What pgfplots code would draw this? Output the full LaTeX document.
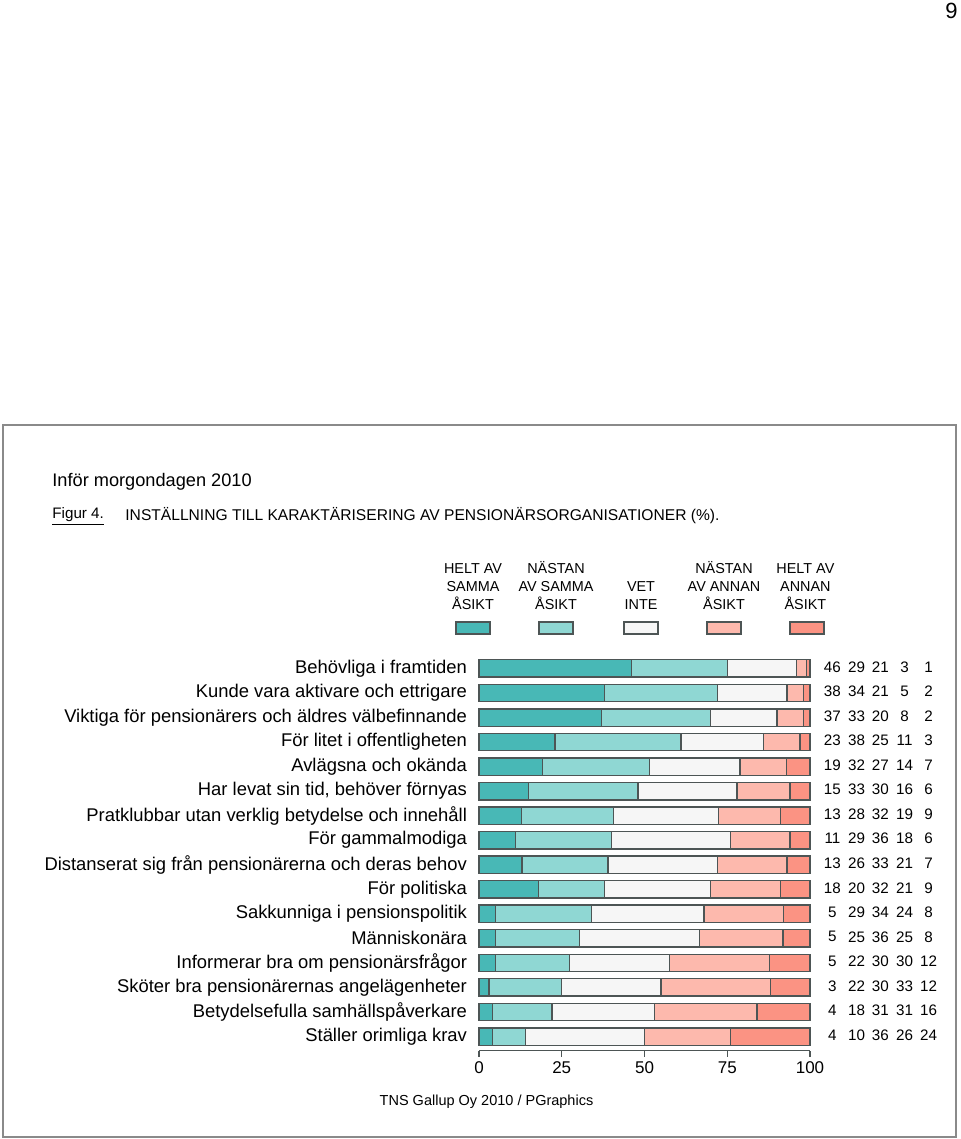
\documentclass[border=0pt]{standalone}
\usepackage{fontspec}
\setmainfont{Liberation Sans}
\usepackage{pgfplots}
\pgfplotsset{compat=1.18}
\definecolor{c1}{HTML}{48B8B6}
\definecolor{c2}{HTML}{8FD7D3}
\definecolor{c3}{HTML}{F6F6F6}
\definecolor{c4}{HTML}{FDB9AD}
\definecolor{c5}{HTML}{FB9383}
\definecolor{edge}{HTML}{4D5555}
\definecolor{framec}{HTML}{8A8A8A}
\begin{document}
\begin{tikzpicture}
\useasboundingbox (0,0) rectangle (480pt,-569.5pt);
\fill[white] (0,0) rectangle (480pt,-569.5pt);
\draw[line width=1pt, color=framec] (1.25pt,-212.5pt) rectangle (477.75pt,-568.5pt);
\node[anchor=base east, inner sep=0pt, font=\fontsize{11}{13}\selectfont] at (479pt,-9.5pt) {9};
\node[anchor=base west, inner sep=0pt, font=\fontsize{9.1}{11}\selectfont] at (26pt,-243pt) {Inför morgondagen 2010};
\node[anchor=base west, inner sep=0pt, font=\fontsize{7.6}{9}\selectfont] at (26pt,-259pt) {\underline{Figur 4.}};
\node[anchor=base west, inner sep=0pt, font=\fontsize{7.8}{9}\selectfont] at (62.5pt,-260pt) {INSTÄLLNING TILL KARAKTÄRISERING AV PENSIONÄRSORGANISATIONER (\%).};
% legend text
\tikzset{lg/.style={anchor=base, inner sep=0pt, font=\fontsize{7.2}{8.5}\selectfont}}
\node[lg] at (236.5pt,-286.5pt) {HELT AV};
\node[lg] at (236.5pt,-295.5pt) {SAMMA};
\node[lg] at (236.5pt,-304.5pt) {ÅSIKT};
\node[lg] at (278pt,-286.5pt) {NÄSTAN};
\node[lg] at (278pt,-295.5pt) {AV SAMMA};
\node[lg] at (278pt,-304.5pt) {ÅSIKT};
\node[lg] at (320.5pt,-295.5pt) {VET};
\node[lg] at (320.5pt,-304.5pt) {INTE};
\node[lg] at (362pt,-286.5pt) {NÄSTAN};
\node[lg] at (362pt,-295.5pt) {AV ANNAN};
\node[lg] at (362pt,-304.5pt) {ÅSIKT};
\node[lg] at (402.7pt,-286.5pt) {HELT AV};
\node[lg] at (402.7pt,-295.5pt) {ANNAN};
\node[lg] at (402.7pt,-304.5pt) {ÅSIKT};
\draw[edge, line width=0.6pt, fill=c1] (228pt,-311pt) rectangle (245pt,-317pt);
\draw[edge, line width=0.6pt, fill=c2] (269.5pt,-311pt) rectangle (286.5pt,-317pt);
\draw[edge, line width=0.6pt, fill=c3] (312pt,-311pt) rectangle (329pt,-317pt);
\draw[edge, line width=0.6pt, fill=c4] (353.5pt,-311pt) rectangle (370.5pt,-317pt);
\draw[edge, line width=0.6pt, fill=c5] (395pt,-311pt) rectangle (412pt,-317pt);
\begin{axis}[
  at={(239.5pt,-525.4pt)}, anchor=south west,
  scale only axis, width=165.5pt, height=197.3pt,
  xmin=0, xmax=100, ymin=0.417, ymax=16.5,
  xbar stacked, bar width=8.7pt,
  axis x line*=bottom, axis y line*=left,
  x axis line style={draw=edge, line width=0.6pt},
  y axis line style={draw=none},
  ytick style={draw=none},
  xtick style={draw=edge, line width=0.6pt},
  xtick={0,25,50,75,100}, tick align=outside, major tick length=3pt,
  /pgf/number format/assume math mode=true,
  xticklabel style={font=\fontsize{8.5}{10}\selectfont, yshift=1pt},
  ytick={1,...,16},
  yticklabels={Ställer orimliga krav, Betydelsefulla samhällspåverkare, Sköter bra pensionärernas angelägenheter, Informerar bra om pensionärsfrågor, Människonära, Sakkunniga i pensionspolitik, För politiska, Distanserat sig från pensionärerna och deras behov, För gammalmodiga, Pratklubbar utan verklig betydelse och innehåll, {Har levat sin tid, behöver förnyas}, Avlägsna och okända, För litet i offentligheten, Viktiga för pensionärers och äldres välbefinnande, Kunde vara aktivare och ettrigare, Behövliga i framtiden},
  yticklabel style={font=\fontsize{9.2}{11}\selectfont, xshift=0.5pt},
  clip=false,
]
\addplot[fill=c1, draw=edge, line width=0.7pt] coordinates {(46,16) (38,15) (37,14) (23,13) (19.2,12) (15,11) (12.8,10) (11,9) (13,8) (18,7) (5,6) (5.05,5) (5.05,4) (3,3) (4,2) (4,1)};
\addplot[fill=c2, draw=edge, line width=0.7pt] coordinates {(29,16) (34,15) (33,14) (38,13) (32.3,12) (33,11) (27.8,10) (29,9) (26,8) (20,7) (29,6) (25.25,5) (22.2,4) (22,3) (18,2) (10,1)};
\addplot[fill=c3, draw=edge, line width=0.7pt] coordinates {(21,16) (21,15) (20,14) (25,13) (27.3,12) (30,11) (31.7,10) (36,9) (33,8) (32,7) (34,6) (36.35,5) (30.3,4) (30,3) (31,2) (36,1)};
\addplot[fill=c4, draw=edge, line width=0.7pt] coordinates {(3,16) (5,15) (8,14) (11,13) (14.1,12) (16,11) (18.8,10) (18,9) (21,8) (21,7) (24,6) (25.25,5) (30.3,4) (33,3) (31,2) (26,1)};
\addplot[fill=c5, draw=edge, line width=0.7pt] coordinates {(1,16) (2,15) (2,14) (3,13) (7.1,12) (6,11) (8.9,10) (6,9) (7,8) (9,7) (8,6) (8.1,5) (12.15,4) (12,3) (16,2) (24,1)};
\end{axis}
\tikzset{nm/.style={anchor=center, inner sep=0pt, font=\fontsize{7.6}{9}\selectfont}}
\foreach \i/\a/\b/\c/\d/\e in {1/46/29/21/3/1, 2/38/34/21/5/2, 3/37/33/20/8/2, 4/23/38/25/11/3, 5/19/32/27/14/7, 6/15/33/30/16/6, 7/13/28/32/19/9, 8/11/29/36/18/6, 9/13/26/33/21/7, 10/18/20/32/21/9, 11/5/29/34/24/8, 12/5/25/36/25/8, 13/5/22/30/30/12, 14/3/22/30/33/12, 15/4/18/31/31/16, 16/4/10/36/26/24}{
  \pgfmathsetmacro\yy{-(333.5+(\i-1)*12.265)}
  \node[nm] at (416.2pt,\yy pt) {\a};
  \node[nm] at (428.3pt,\yy pt) {\b};
  \node[nm] at (440.2pt,\yy pt) {\c};
  \node[nm] at (452.3pt,\yy pt) {\d};
  \node[nm] at (464.3pt,\yy pt) {\e};
}
\node[anchor=base, inner sep=0pt, font=\fontsize{7.25}{9}\selectfont] at (243.25pt,-552.5pt) {TNS Gallup Oy 2010 / PGraphics};
\end{tikzpicture}
\end{document}
